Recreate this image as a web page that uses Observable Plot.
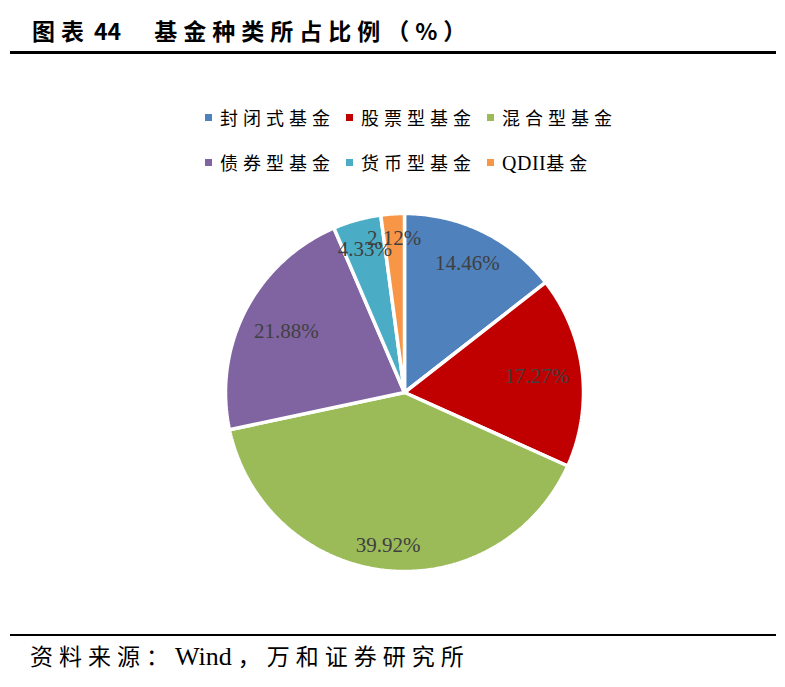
<!DOCTYPE html>
<html><head><meta charset="utf-8">
<script src="https://cdn.jsdelivr.net/npm/d3@7"></script>
<script src="https://cdn.jsdelivr.net/npm/@observablehq/plot@0.6"></script>
<style>
body{margin:0;background:#fff;width:785px;height:687px;position:relative;overflow:hidden;font-family:"Noto Sans CJK SC","Liberation Serif",sans-serif;color:#000;}
#title{position:absolute;left:32px;top:13px;font-size:23px;font-weight:bold;line-height:34px;white-space:nowrap;}
#title .cjk{letter-spacing:6px;}
#tline{position:absolute;left:10px;top:51px;width:766px;height:3px;background:#000;}
#legend{position:absolute;left:203px;top:103px;display:grid;grid-template-columns:141px 141px 141px;row-gap:17px;}
.item{display:flex;align-items:center;height:28px;white-space:nowrap;}
.sw{width:7px;height:7px;margin-left:2px;margin-right:8px;flex:none;}
.lt{font-size:18px;letter-spacing:5px;font-family:"Liberation Serif","Noto Sans CJK SC",serif;}
.lat{letter-spacing:0.5px;font-size:20px;}
#chart{position:absolute;left:0;top:192px;}
#bline{position:absolute;left:10px;top:634px;width:766px;height:2px;background:#000;}
#source{position:absolute;left:30px;top:641px;font-size:23px;letter-spacing:6px;line-height:32px;white-space:nowrap;font-family:"Liberation Serif","Noto Sans CJK SC",serif;}
#source .w{letter-spacing:0;font-size:26px;margin-right:6px;}
</style></head><body>
<div id="title"><span class="cjk">图表</span><span style="margin-left:4px">44</span><span class="cjk" style="margin-left:33px">基金种类所占比例（%）</span></div>
<div id="tline"></div>
<div id="legend"></div>
<div id="chart"></div>
<div id="bline"></div>
<div id="source">资料来源：<span class="w">Wind</span>，万和证券研究所</div>
<script>
const categories = ["封闭式基金","股票型基金","混合型基金","债券型基金","货币型基金","QDII基金"];
const shares = [14.46, 17.27, 39.92, 21.88, 4.33, 2.12];
const colors = ["#4F81BD","#C00000","#9BBB59","#8064A2","#4BACC6","#F79646"];

// legend (Latin runs without the wide CJK tracking)
const lg = document.getElementById("legend");
categories.forEach((c, i) => {
  const it = document.createElement("div");
  it.className = "item";
  const html = c.replace(/([A-Za-z]+)/g, '<span class="lat">$1</span>');
  it.innerHTML = `<div class="sw" style="background:${colors[i]}"></div><div class="lt">${html}</div>`;
  lg.appendChild(it);
});

const R = 179, CX = 404, CY = 200, W = 785, H = 400;
const arcs = d3.pie().sort(null).value(d => d.v)(categories.map((c, i) => ({c, v: shares[i]})));
const pts = [];
const labels = [];
for (const a of arcs) {
  pts.push({c: a.data.c, x: 0, y: 0});
  const n = Math.max(2, Math.ceil((a.endAngle - a.startAngle) / (Math.PI / 360)));
  for (let k = 0; k <= n; k++) {
    const t = a.startAngle + (a.endAngle - a.startAngle) * k / n;
    pts.push({c: a.data.c, x: Math.sin(t), y: Math.cos(t)});
  }
  const m = (a.startAngle + a.endAngle) / 2;
  const d = (0.94 * R - (34 * Math.abs(Math.sin(m)) + 11 * Math.abs(Math.cos(m)))) / R;
  labels.push({x: d * Math.sin(m), y: d * Math.cos(m), text: a.data.v.toFixed(2) + "%"});
}

const chart = Plot.plot({
  width: W, height: H, margin: 0,
  x: {domain: [-CX / R, (W - CX) / R], axis: null},
  y: {domain: [-CY / R, (H - CY) / R], axis: null},
  color: {domain: categories, range: colors},
  marks: [
    Plot.line(pts, {x: "x", y: "y", z: "c", fill: "c", stroke: "white", strokeWidth: 3.5, strokeLinejoin: "miter", curve: "linear-closed"}),
    Plot.text(labels, {x: "x", y: "y", text: "text", fill: "#404040", fontSize: 21, fontFamily: "Liberation Serif"})
  ]
});
document.getElementById("chart").appendChild(chart);
</script>
</body></html>
